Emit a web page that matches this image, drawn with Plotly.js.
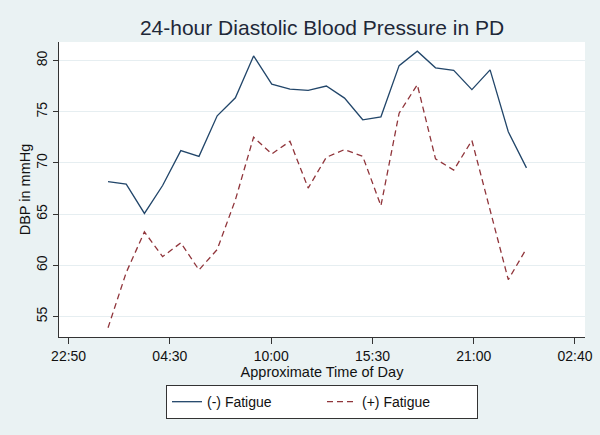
<!DOCTYPE html>
<html>
<head>
<meta charset="utf-8">
<script src="https://cdn.plot.ly/plotly-3.0.1.min.js"></script>
<style>html,body{margin:0;padding:0;background:#EAF2F3;}#chart{width:600px;height:435px;}</style>
</head>
<body>
<div id="chart"></div>
<script>
// Hour of day of each reading (1 = 01:00 ... 24 = midnight)
var hours = [1,2,3,4,5,6,7,8,9,10,11,12,13,14,15,16,17,18,19,20,21,22,23,24];
var noFatigue = [68.17,67.94,65.07,67.8,71.21,70.65,74.61,76.37,80.46,77.71,77.22,77.09,77.52,76.34,74.22,74.51,79.51,80.92,79.3,79.05,77.17,79.1,73.05,69.52];
var withFatigue = [53.9,59.3,63.27,60.85,62.2,59.55,61.55,66.4,72.52,70.88,72.12,67.55,70.56,71.31,70.65,65.82,74.87,77.65,70.4,69.3,72.2,65.4,58.6,61.64];
var tickLabels = ["22:50","04:30","10:00","15:30","21:00","02:40"];
var seriesNames = ["(-) Fatigue","(+) Fatigue"];

// axis spans 22:50 (previous day) to 02:40 (next day), ticks evenly spaced
var tStart = -(1 + 10/60), tEnd = 26 + 40/60;
var tickVals = tickLabels.map(function(_, i){ return tStart + i*(tEnd - tStart)/(tickLabels.length-1); });

var font = "Liberation Sans, Arial, sans-serif";
var traces = [
  {x: hours, y: noFatigue, name: seriesNames[0], type: "scatter", mode: "lines",
   line: {color: "#22466a", width: 1.3}},
  {x: hours, y: withFatigue, name: seriesNames[1], type: "scatter", mode: "lines",
   line: {color: "#90353b", width: 1.3, dash: "6px,4px"}}
];
var layout = {
  width: 600, height: 435,
  paper_bgcolor: "#EAF2F3", plot_bgcolor: "#FFFFFF",
  margin: {l: 59, r: 15, t: 42, b: 98},
  font: {family: font, size: 14, color: "#111"},
  title: {text: "24-hour Diastolic Blood Pressure in PD", font: {family: font, size: 21, color: "#1e2838"},
          x: 0.5, xref: "paper", xanchor: "center", y: 1 - 28/435, yref: "container", yanchor: "middle"},
  xaxis: {range: [-1.695, 27.217], tickvals: tickVals, ticktext: tickLabels,
          showgrid: false, zeroline: false, showline: true, linecolor: "#333", linewidth: 1,
          ticks: "outside", ticklen: 6, tickcolor: "#333", tickfont: {size: 14},
          title: {text: "Approximate Time of Day", font: {size: 14.5}, standoff: 4}},
  yaxis: {range: [53.0, 81.82], tickvals: [55,60,65,70,75,80], tickangle: -90,
          showgrid: true, gridcolor: "#E6EEF1", gridwidth: 1, zeroline: false,
          showline: true, linecolor: "#333", linewidth: 1,
          ticks: "outside", ticklen: 5, tickcolor: "#333", tickfont: {size: 14},
          title: {text: "DBP in mmHg", font: {size: 14.5}, standoff: 0}},
  showlegend: true,
  legend: {orientation: "h", x: 0.5, xanchor: "center", xref: "paper", y: -0.163, yanchor: "top",
           bgcolor: "#FFFFFF", bordercolor: "#333", borderwidth: 1, font: {size: 14},
           entrywidth: 110, entrywidthmode: "pixels", traceorder: "normal"}
};
Plotly.newPlot("chart", traces, layout, {displayModeBar: false, staticPlot: true});
</script>
</body>
</html>
